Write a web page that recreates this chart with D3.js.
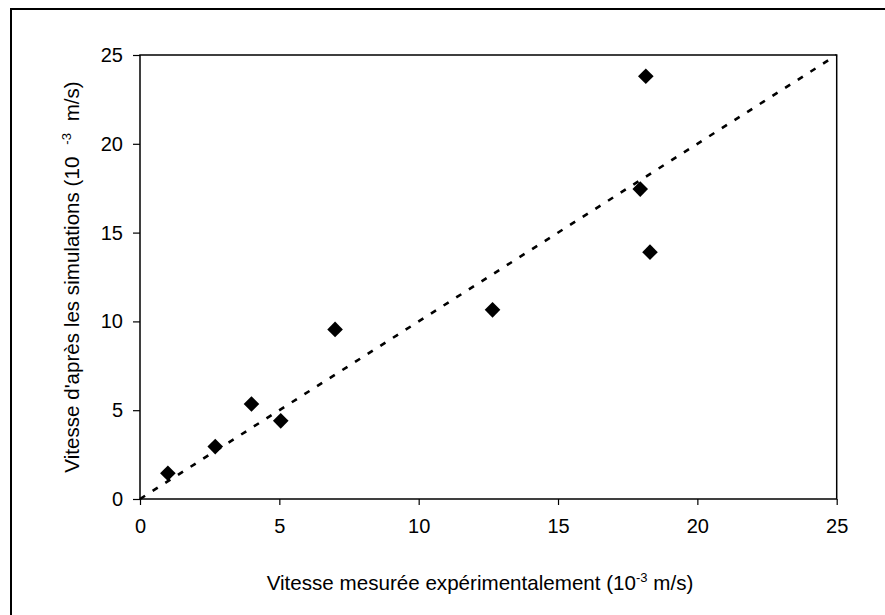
<!DOCTYPE html>
<html>
<head>
<meta charset="utf-8">
<script src="https://cdn.jsdelivr.net/npm/d3@7"></script>
<style>
  body { margin: 0; background: #fff; }
  svg { display: block; font-family: "Liberation Sans", Arial, sans-serif; }
  .tick text { font-size: 20px; fill: #000; }
</style>
</head>
<body>
<svg id="chart" width="885" height="615"></svg>
<script>
// measured speed (10^-3 m/s) vs simulated speed
var measured = [1.0, 2.7, 4.0, 5.05, 7.0, 12.65, 17.95, 18.15, 18.3];
var simulated = [1.45, 2.95, 5.35, 4.4, 9.55, 10.65, 17.45, 23.8, 13.9];
var tickValues = [0, 5, 10, 15, 20, 25];
var diagonal = [0, 25];

function drawChart() {
    var svg = d3.select("#chart");
    var plotLeft = 140, plotRight = 836.7, plotTop = 55, plotBottom = 499;

    var x = d3.scaleLinear().domain([0, 25]).range([plotLeft, plotRight]);
    var y = d3.scaleLinear().domain([0, 25]).range([plotBottom, plotTop]);

    // outer frame (cut off at right and bottom)
    svg.append("path")
        .attr("d", "M11,620 L11,9 L890,9")
        .attr("fill", "none")
        .attr("stroke", "#000")
        .attr("stroke-width", 2);

    // plot border
    svg.append("rect")
        .attr("x", plotLeft).attr("y", plotTop)
        .attr("width", plotRight - plotLeft).attr("height", plotBottom - plotTop)
        .attr("fill", "none")
        .attr("stroke", "#000")
        .attr("stroke-width", 1.5);

    var xAxis = svg.append("g")
        .attr("transform", "translate(0," + plotBottom + ")")
        .call(d3.axisBottom(x).tickValues(tickValues).tickSize(6).tickPadding(14).tickFormat(d3.format("d")));

    var yAxis = svg.append("g")
        .attr("transform", "translate(" + plotLeft + ",0)")
        .call(d3.axisLeft(y).tickValues(tickValues).tickSize(7).tickPadding(10).tickFormat(d3.format("d")));

    [xAxis, yAxis].forEach(function(a) {
        a.select(".domain").remove();
        a.selectAll(".tick line").attr("stroke", "#000").attr("stroke-width", 1.2);
        a.selectAll(".tick text").attr("font-family", "Liberation Sans, Arial, sans-serif");
    });

    // y = x reference line
    var line = d3.line()
        .x(function(d) { return x(d); })
        .y(function(d) { return y(d); });

    svg.append("path")
        .datum(diagonal)
        .attr("d", line)
        .attr("fill", "none")
        .attr("stroke", "#000")
        .attr("stroke-width", 2.6)
        .attr("stroke-dasharray", "6,9");

    // diamonds
    var sym = d3.symbol().type(d3.symbolSquare).size(122);
    svg.selectAll(".pt")
        .data(measured)
        .enter().append("path")
        .attr("class", "pt")
        .attr("d", sym)
        .attr("transform", function(d, i) {
            return "translate(" + x(d) + "," + y(simulated[i]) + ") rotate(45)";
        })
        .attr("fill", "#000");

    // axis titles
    var xt = svg.append("text")
        .attr("x", 480)
        .attr("y", 590)
        .attr("text-anchor", "middle")
        .attr("font-size", 20.6);
    xt.append("tspan").text("Vitesse mesurée expérimentalement (10");
    xt.append("tspan").text("-3").attr("font-size", 13).attr("dy", -8);
    xt.append("tspan").text(" m/s)").attr("dy", 8);

    var yt = svg.append("text")
        .attr("transform", "translate(79," + (plotTop + plotBottom) / 2 + ") rotate(-90)")
        .attr("text-anchor", "middle")
        .attr("font-size", 20.6);
    yt.append("tspan").text("Vitesse d'après les simulations (10");
    yt.append("tspan").text("-3").attr("font-size", 13).attr("dx", 12).attr("dy", -8);
    yt.append("tspan").text(" m/s)").attr("dx", 6).attr("dy", 8);
}

drawChart();
</script>
</body>
</html>
